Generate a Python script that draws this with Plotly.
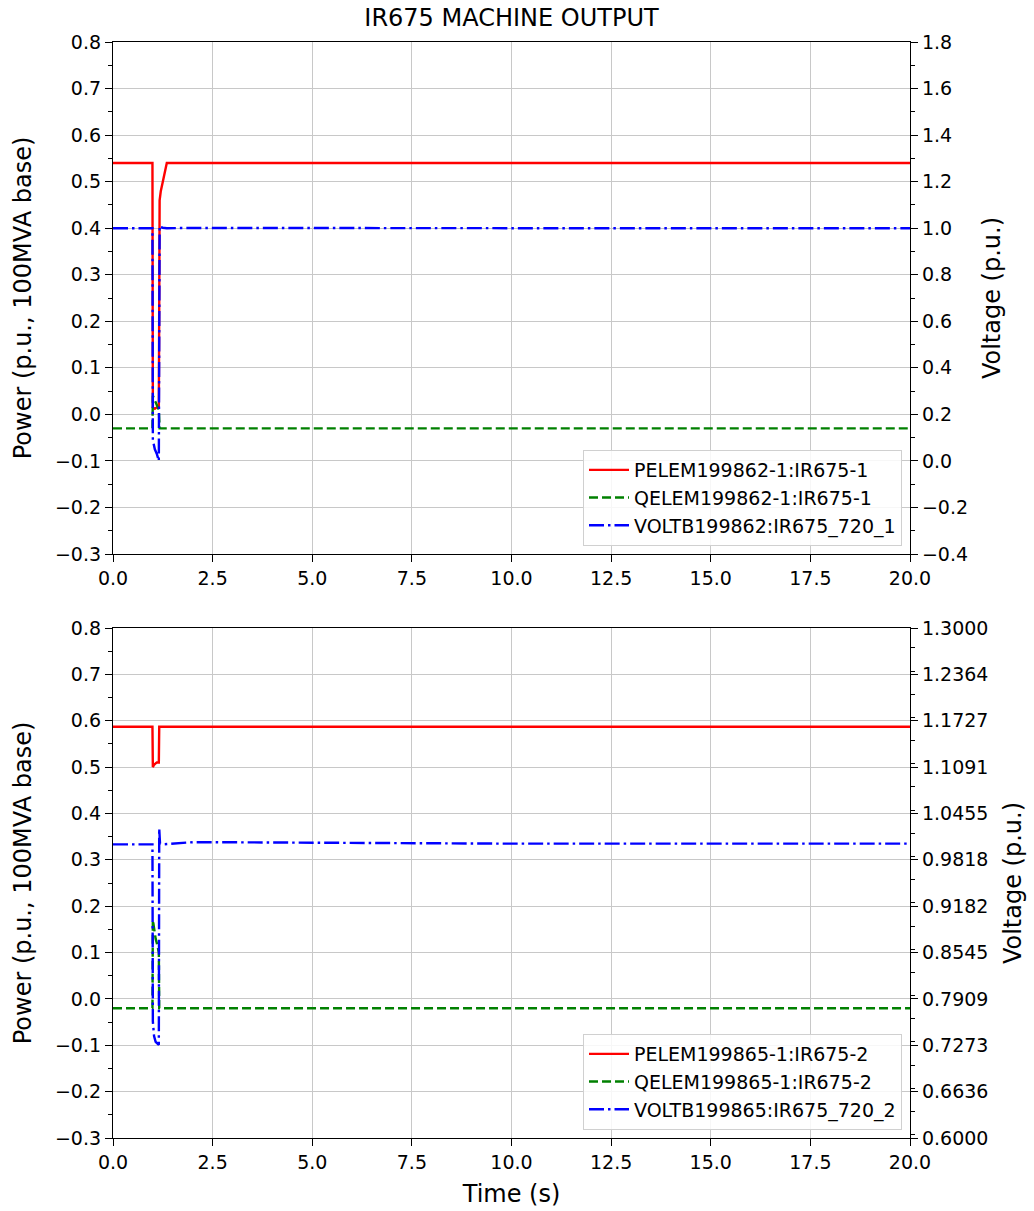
import plotly.graph_objects as go

# ---------------- data ----------------
t_top = [0.0, 0.99, 1.0, 1.05, 1.10, 1.15, 1.17, 1.20, 1.25, 1.30, 1.35, 2.0, 5.0, 10.0, 20.0]
p_top = [0.54, 0.54, 0.015, 0.012, 0.015, 0.015, 0.46, 0.48, 0.50, 0.52, 0.54, 0.54, 0.54, 0.54, 0.54]
q_top = [-0.03, -0.03, 0.04, 0.03, 0.02, 0.01, -0.03, -0.03, -0.03, -0.03, -0.03, -0.03, -0.03, -0.03, -0.03]
v_top = [1.0, 1.0, 0.09, 0.05, 0.03, 0.0, 1.01, 1.005, 1.002, 1.0, 1.0, 1.001, 1.0, 1.0, 1.0]

t_bot = [0.0, 0.99, 1.0, 1.03, 1.07, 1.10, 1.15, 1.16, 1.18, 1.25, 1.5, 2.0, 2.5, 5.0, 10.0, 20.0]
p_bot = [0.587, 0.587, 0.50, 0.505, 0.508, 0.51, 0.51, 0.587, 0.587, 0.587, 0.587, 0.587, 0.587, 0.587, 0.587, 0.587]
q_bot = [-0.02, -0.02, 0.17, 0.15, 0.13, 0.12, 0.10, -0.02, -0.02, -0.02, -0.02, -0.02, -0.02, -0.02, -0.02, -0.02]
v_bot = [1.003, 1.003, 0.76, 0.74, 0.732, 0.73, 0.728, 1.025, 1.004, 1.003, 1.004, 1.006, 1.006, 1.005, 1.004, 1.004]

names_top = ["PELEM199862-1:IR675-1", "QELEM199862-1:IR675-1", "VOLTB199862:IR675_720_1"]
names_bot = ["PELEM199865-1:IR675-2", "QELEM199865-1:IR675-2", "VOLTB199865:IR675_720_2"]

title_text = "IR675 MACHINE OUTPUT"
y_left_title = "Power (p.u., 100MVA base)"
y_right_title = "Voltage (p.u.)"
x_title = "Time (s)"

# ---------------- figure ----------------
FONT = "DejaVu Sans"
LW = 2.4
DASH = "9px,4px"
DASHDOT = "15px,4px,2.5px,4px"

fig = go.Figure()

fig.add_trace(go.Scatter(x=t_top, y=p_top, mode="lines", name=names_top[0],
                         line=dict(color="red", width=LW), xaxis="x", yaxis="y", legend="legend"))
fig.add_trace(go.Scatter(x=t_top, y=q_top, mode="lines", name=names_top[1],
                         line=dict(color="green", width=LW, dash=DASH), xaxis="x", yaxis="y", legend="legend"))
fig.add_trace(go.Scatter(x=t_top, y=v_top, mode="lines", name=names_top[2],
                         line=dict(color="blue", width=LW, dash=DASHDOT), xaxis="x", yaxis="y2", legend="legend"))

fig.add_trace(go.Scatter(x=t_bot, y=p_bot, mode="lines", name=names_bot[0],
                         line=dict(color="red", width=LW), xaxis="x2", yaxis="y3", legend="legend2"))
fig.add_trace(go.Scatter(x=t_bot, y=q_bot, mode="lines", name=names_bot[1],
                         line=dict(color="green", width=LW, dash=DASH), xaxis="x2", yaxis="y3", legend="legend2"))
fig.add_trace(go.Scatter(x=t_bot, y=v_bot, mode="lines", name=names_bot[2],
                         line=dict(color="blue", width=LW, dash=DASHDOT), xaxis="x2", yaxis="y4", legend="legend2"))

W, H = 1034, 1211
ML, MR, MT, MB = 113, 124, 42, 73
ph = H - MT - MB
top_dom = [(1138 - 554) / ph, 1.0]
bot_dom = [0.0, (1138 - 628) / ph]

tickfont = dict(family=FONT, size=19, color="black")
titlefont = dict(family=FONT, size=24, color="black")

def xax(anchor, dom, title=None):
    d = dict(domain=[0, 1], anchor=anchor, range=[0, 20], tick0=0, dtick=2.5, automargin=False,
             tickformat=".1f", ticks="outside", ticklen=7, tickwidth=1.2, tickcolor="black",
             showline=True, linecolor="black", linewidth=1.3, mirror=True,
             showgrid=True, gridcolor="#c8c8c8", gridwidth=1, zeroline=False,
             tickfont=tickfont)
    if title:
        d["title"] = dict(text=title, font=titlefont, standoff=13)
    return d

def yleft(anchor, dom):
    return dict(domain=dom, anchor=anchor, range=[-0.3, 0.8], tick0=-0.3, dtick=0.1, automargin=False,
                tickformat=".1f", ticks="outside", ticklen=7, tickwidth=1.2, tickcolor="black",
                minor=dict(ticks="outside", ticklen=4, tickwidth=1, tickcolor="black", dtick=0.05, showgrid=False),
                showline=True, linecolor="black", linewidth=1.3,
                showgrid=True, gridcolor="#c8c8c8", gridwidth=1, zeroline=False,
                tickfont=tickfont, title=dict(text=y_left_title, font=titlefont, standoff=16))

def yright(anchor, over, rng, tick0, dtick, fmt, minor_dtick):
    return dict(anchor=anchor, overlaying=over, side="right", range=rng, tick0=tick0, dtick=dtick,
                automargin=False,
                tickformat=fmt, ticks="outside", ticklen=7, tickwidth=1.2, tickcolor="black",
                minor=dict(ticks="outside", ticklen=4, tickwidth=1, tickcolor="black", dtick=minor_dtick, showgrid=False),
                showline=True, linecolor="black", linewidth=1.3,
                showgrid=False, zeroline=False,
                tickfont=tickfont, title=dict(text=y_right_title, font=titlefont, standoff=16))

legend_common = dict(bgcolor="rgba(255,255,255,0.85)", bordercolor="#d0d0d0", borderwidth=1,
                     font=dict(family=FONT, size=19, color="black"),
                     xanchor="right", yanchor="bottom", tracegroupgap=0, itemwidth=40)

fig.update_layout(
    width=W, height=H,
    margin=dict(l=ML, r=MR, t=MT, b=MB, autoexpand=False),
    paper_bgcolor="white", plot_bgcolor="white",
    font=dict(family=FONT, color="black"),
    title=dict(text=title_text, x=(ML + (W - ML - MR) / 2) / W, xanchor="center",
               y=1 - 18 / H, yanchor="middle", font=dict(family=FONT, size=24, color="black")),
    xaxis=xax("y", top_dom),
    yaxis=yleft("x", top_dom),
    yaxis2=yright("x", "y", [-0.4, 1.8], -0.4, 0.2, ".1f", 0.1),
    xaxis2=xax("y3", bot_dom, x_title),
    yaxis3=yleft("x2", bot_dom),
    yaxis4=yright("x2", "y3", [0.6, 1.3], 0.6, 0.7 / 11, ".4f", 0.7 / 22),
    legend=dict(x=(902 - ML) / (W - ML - MR), y=(1138 - 546) / ph, **legend_common),
    legend2=dict(x=(902 - ML) / (W - ML - MR), y=(1138 - 1130) / ph, **legend_common),
    showlegend=True,
)

fig.write_html("out.html")
